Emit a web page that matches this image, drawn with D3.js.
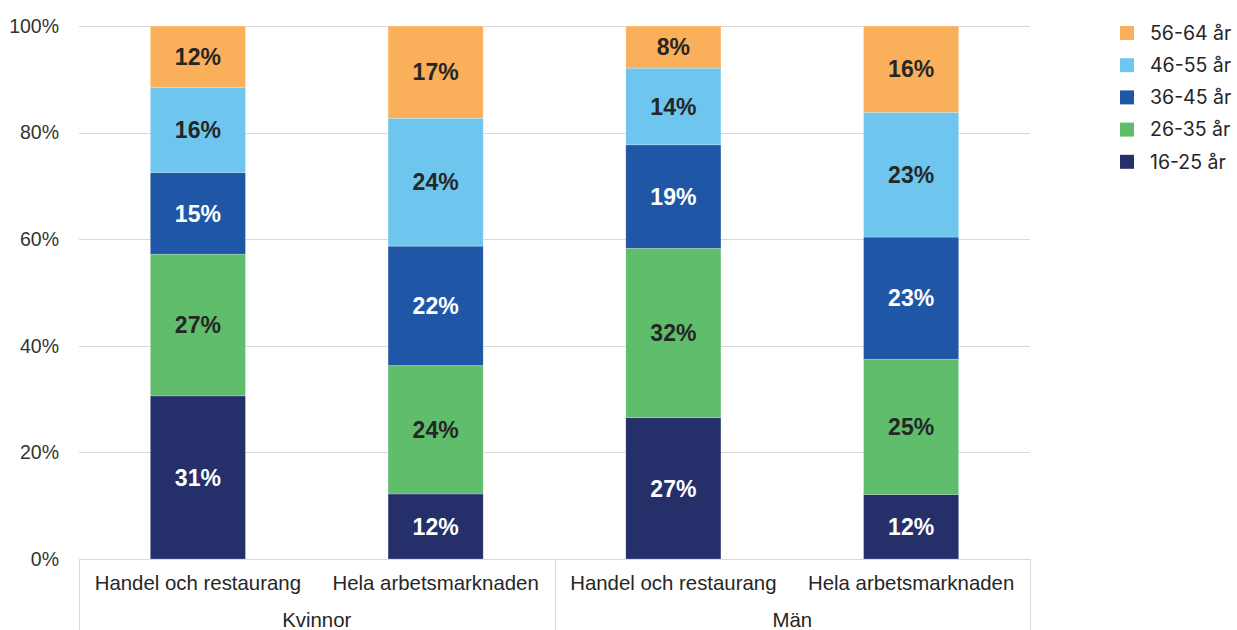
<!DOCTYPE html>
<html>
<head>
<meta charset="utf-8">
<script src="https://cdn.jsdelivr.net/npm/d3@7"></script>
<style>
  body { margin: 0; background: #fff; }
  svg { display: block; }
</style>
</head>
<body>
<svg id="chart"></svg>
<script>
// Data (share in percent)
const groups = ["Kvinnor", "Män"];
const sectors = ["Handel och restaurang", "Hela arbetsmarknaden"];
const ageClasses = ["16-25 år", "26-35 år", "36-45 år", "46-55 år", "56-64 år"];
const age16to25 = [30.6, 12.2, 26.5, 12.1];
const age26to35 = [26.6, 24.1, 31.8, 25.4];
const age36to45 = [15.3, 22.4, 19.4, 22.9];
const age46to55 = [16.0, 24.0, 14.4, 23.4];
const age56to64 = [11.5, 17.3, 7.9, 16.2];
const yTicks = [0, 20, 40, 60, 80, 100];

const colors = ["#25306a", "#5fbd6b", "#1f57a6", "#6ec6ef", "#fab05b"];
const labelColors = ["#fff", "#262626", "#fff", "#262626", "#262626"];

// build rows: one per bar (group x sector)
let rows = [];
groups.forEach((g, gi) => {
  sectors.forEach((s, si) => {
    let i = gi * sectors.length + si;
    rows.push({
      key: i, group: g, sector: s,
      "16-25 år": age16to25[i],
      "26-35 år": age26to35[i],
      "36-45 år": age36to45[i],
      "46-55 år": age46to55[i],
      "56-64 år": age56to64[i]
    });
  });
});

let width = 1237, height = 630;
let plot = {left: 79, right: 1030, top: 26, bottom: 559};

let svg = d3.select("#chart")
  .attr("width", width)
  .attr("height", height);

let x = d3.scaleBand()
  .domain(rows.map(d => d.key))
  .range([plot.left, plot.right])
  .paddingInner(0.6)
  .paddingOuter(0.3);

let y = d3.scaleLinear()
  .domain([0, 100])
  .range([plot.bottom, plot.top]);

let font = "'Liberation Sans', Arial, sans-serif";

// gridlines
svg.append("g")
  .selectAll("line")
  .data(yTicks)
  .join("line")
    .attr("x1", plot.left)
    .attr("x2", plot.right)
    .attr("y1", d => Math.round(y(d)) + 0.5)
    .attr("y2", d => Math.round(y(d)) + 0.5)
    .attr("stroke", "#d9d9d9")
    .attr("stroke-width", 1);

// y axis labels
svg.append("g")
  .selectAll("text")
  .data(yTicks)
  .join("text")
    .attr("x", 59)
    .attr("y", d => y(d))
    .attr("dy", "0.35em")
    .attr("text-anchor", "end")
    .style("font-family", font)
    .style("font-size", "19.5px")
    .style("fill", "#333")
    .text(d => d + "%");

// stacked bars
let stack = d3.stack().keys(ageClasses);
let series = stack(rows);

let layer = svg.append("g")
  .selectAll("g")
  .data(series)
  .join("g")
    .attr("fill", (d, i) => colors[i]);

layer.selectAll("rect")
  .data(d => d)
  .join("rect")
    .attr("x", d => x(d.data.key))
    .attr("width", x.bandwidth())
    .attr("y", d => y(d[1]))
    .attr("height", d => y(d[0]) - y(d[1]))
    .attr("stroke", "rgba(255,255,255,0.35)")
    .attr("stroke-width", 0.6);

// value labels
svg.append("g")
  .selectAll("g")
  .data(series)
  .join("g")
    .attr("fill", (d, i) => labelColors[i])
  .selectAll("text")
  .data(d => d)
  .join("text")
    .attr("x", d => x(d.data.key) + x.bandwidth() / 2)
    .attr("y", d => (y(d[0]) + y(d[1])) / 2)
    .attr("dy", "0.36em")
    .attr("text-anchor", "middle")
    .style("font-family", font)
    .style("font-weight", "bold")
    .style("font-size", "23px")
    .text(d => Math.round(d[1] - d[0]) + "%");

// category axis: sector labels and group labels
svg.append("g")
  .selectAll("text")
  .data(rows)
  .join("text")
    .attr("x", d => x(d.key) + x.bandwidth() / 2)
    .attr("y", 583)
    .attr("dy", "0.35em")
    .attr("text-anchor", "middle")
    .style("font-family", font)
    .style("font-size", "20.4px")
    .style("fill", "#262626")
    .text(d => d.sector);

let groupWidth = (plot.right - plot.left) / groups.length;

svg.append("g")
  .selectAll("text")
  .data(groups)
  .join("text")
    .attr("x", (d, i) => plot.left + groupWidth * (i + 0.5))
    .attr("y", 620)
    .attr("dy", "0.35em")
    .attr("text-anchor", "middle")
    .style("font-family", font)
    .style("font-size", "20.4px")
    .style("fill", "#262626")
    .text(d => d);

// group separators below the baseline
svg.append("g")
  .selectAll("line")
  .data(d3.range(groups.length + 1))
  .join("line")
    .attr("x1", i => Math.round(plot.left + groupWidth * i) + 0.5)
    .attr("x2", i => Math.round(plot.left + groupWidth * i) + 0.5)
    .attr("y1", plot.bottom)
    .attr("y2", height)
    .attr("stroke", "#d9d9d9")
    .attr("stroke-width", 1);

// legend (top item is the oldest class)
let legendItems = ageClasses.map((a, i) => ({name: a, color: colors[i]})).reverse();

let legend = svg.append("g")
  .selectAll("g")
  .data(legendItems)
  .join("g")
    .attr("transform", (d, i) => `translate(1120, ${33 + i * 32.2})`);

legend.append("rect")
  .attr("x", 0)
  .attr("y", -7)
  .attr("width", 14)
  .attr("height", 14)
  .attr("fill", d => d.color);

legend.append("text")
  .attr("x", 30)
  .attr("dy", "0.35em")
  .style("font-family", "Inter, 'Open Sans', sans-serif")
  .style("font-size", "19.5px")
  .style("fill", "#262626")
  .text(d => d.name);
</script>
</body>
</html>
